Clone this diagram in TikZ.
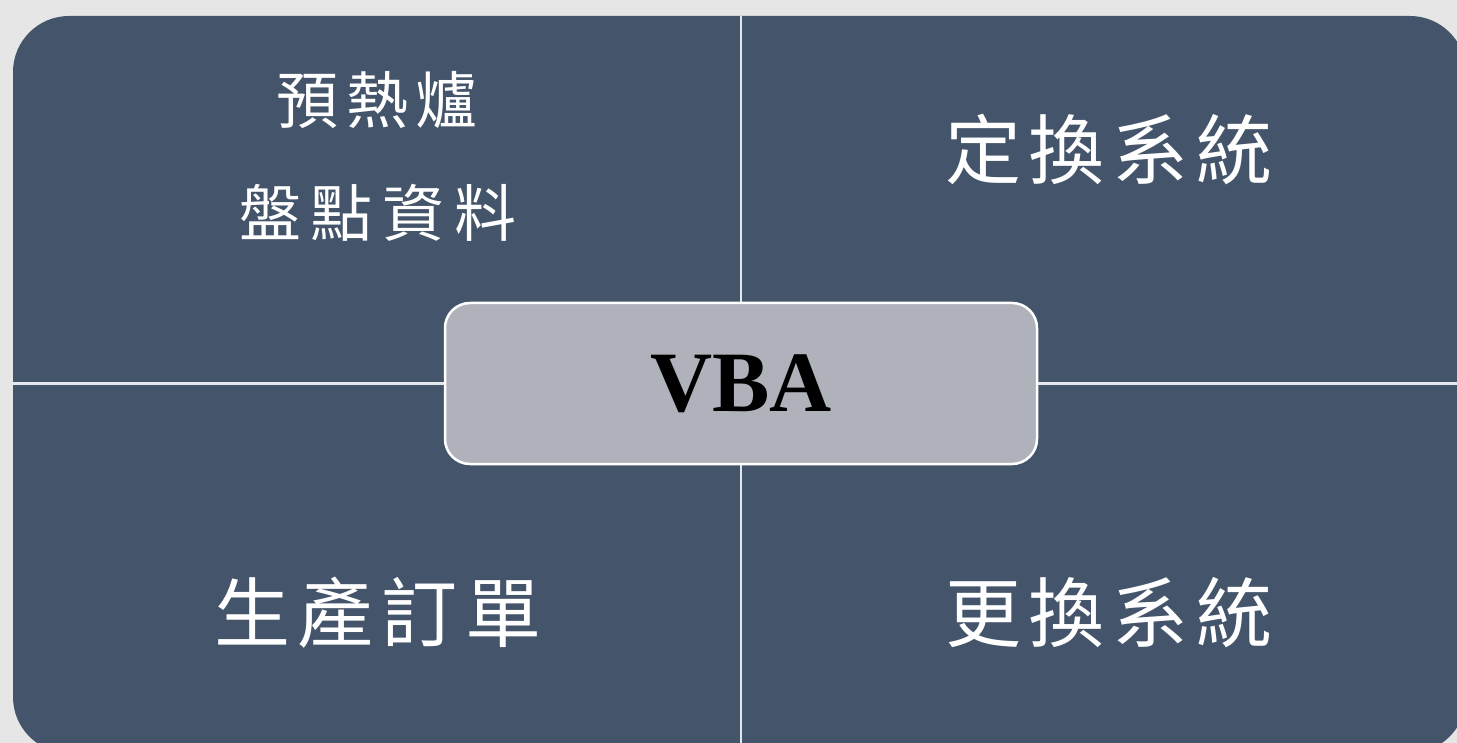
\documentclass[tikz,border=0pt]{standalone}
\usepackage{fontspec}
\setmainfont{Liberation Serif}
\newfontfamily\cjk{Noto Sans CJK TC}
\definecolor{bgc}{HTML}{E6E6E6}
\definecolor{quad}{HTML}{44546A}
\definecolor{centerc}{HTML}{AFB2BB}
\definecolor{divc}{HTML}{E4E7EC}
\newcommand\gapA{\hspace{8pt}}
\newcommand\gapB{\hspace{10pt}}
\tikzset{
  big/.style={text=white, font=\cjk\fontsize{76}{76}\selectfont, inner sep=0pt},
  small/.style={text=white, font=\cjk\fontsize{62}{62}\selectfont, inner sep=0pt},
}
\begin{document}
\begin{tikzpicture}[x=1pt,y=-1pt]
\useasboundingbox (0,0) rectangle (1457,743);
\fill[bgc] (0,0) rectangle (1457,743);
\begin{scope}
\clip (0,0) rectangle (1457,743);
\fill[quad, rounded corners=56pt] (13,16) rectangle (1466,753);
\draw[divc, line width=2.5pt] (741,16) -- (741,753);
\draw[divc, line width=2.5pt] (13,383.5) -- (1466,383.5);
\end{scope}
\node[draw=white, line width=2.5pt, fill=centerc, rounded corners=25pt,
      minimum width=592pt, minimum height=161pt, inner sep=0pt,
      font=\bfseries\fontsize{86}{86}\selectfont] (vba) at (741,383.5) {VBA};
\node[small] (t1) at (377,100) {預\gapA 熱\gapA 爐};
\node[small] (t2) at (378,213) {盤\gapB 點\gapB 資\gapB 料};
\node[big] (t3) at (1109,150) {定\gapA 換\gapA 系\gapA 統};
\node[big] (t4) at (378,613) {生\gapA 產\gapA 訂\gapA 單};
\node[big] (t5) at (1109,613) {更\gapA 換\gapA 系\gapA 統};
\end{tikzpicture}
\end{document}
